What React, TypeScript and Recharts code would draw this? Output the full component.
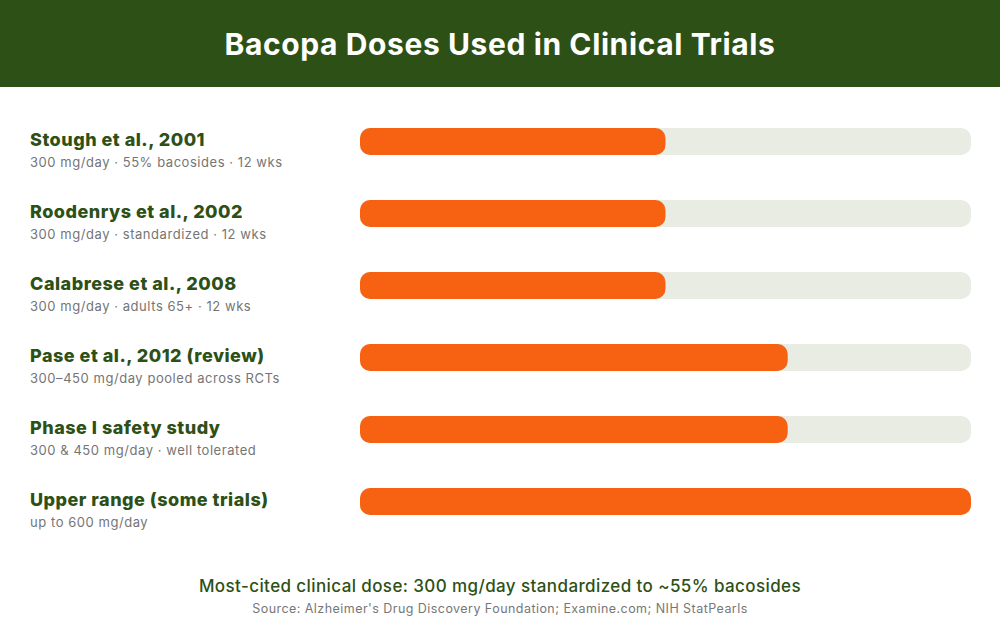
import React from 'react';
import { BarChart, Bar, XAxis, YAxis } from 'recharts';

const studies = [
  'Stough et al., 2001',
  'Roodenrys et al., 2002',
  'Calabrese et al., 2008',
  'Pase et al., 2012 (review)',
  'Phase I safety study',
  'Upper range (some trials)',
];

const details = [
  '300 mg/day · 55% bacosides · 12 wks',
  '300 mg/day · standardized · 12 wks',
  '300 mg/day · adults 65+ · 12 wks',
  '300–450 mg/day pooled across RCTs',
  '300 & 450 mg/day · well tolerated',
  'up to 600 mg/day',
];

const doses = [300, 300, 300, 420, 420, 600];

const maxDose = 600;

const GREEN = '#2d5016';
const ORANGE = '#f66212';
const TRACK = '#e8ece2';
const FONT = 'Inter, "Noto Sans", sans-serif';

const chartData = studies.map((name, i) => ({
  name,
  detail: details[i],
  dose: doses[i],
}));

const StudyTick = (props: any) => {
  const { y, payload, index } = props;
  const detail = details[index] ?? '';
  return (
    <g>
      <text
        x={30}
        y={y + 5}
        fill={GREEN}
        fontSize={18}
        fontWeight={800}
        fontFamily={FONT}
        letterSpacing={0.5}
      >
        {payload.value}
      </text>
      <text x={30} y={y + 26} fill="#757575" fontSize={13} fontFamily={FONT} letterSpacing={0.55}>
        {detail}
      </text>
    </g>
  );
};

const App: React.FC = () => {
  return (
    <div
      style={{
        position: 'absolute',
        left: 0,
        top: 0,
        width: 1000,
        height: 620,
        background: '#ffffff',
        fontFamily: FONT,
        overflow: 'hidden',
      }}
    >
      <div
        style={{
          height: 87,
          background: GREEN,
          color: '#ffffff',
          display: 'flex',
          alignItems: 'center',
          justifyContent: 'center',
          fontSize: 30,
          fontWeight: 700,
          letterSpacing: 0.6,
        }}
      >
        Bacopa Doses Used in Clinical Trials
      </div>
      <div style={{ position: 'absolute', left: 0, top: 0 }}>
        <BarChart
          width={1000}
          height={620}
          data={chartData}
          layout="vertical"
          margin={{ top: 105, right: 29, left: 0, bottom: 83 }}
        >
          <XAxis type="number" domain={[0, maxDose]} hide />
          <YAxis
            type="category"
            dataKey="name"
            width={360}
            axisLine={false}
            tickLine={false}
            tick={<StudyTick />}
          />
          <Bar
            dataKey="dose"
            fill={ORANGE}
            barSize={27}
            radius={10}
            background={{ fill: TRACK, radius: 10 } as any}
            isAnimationActive={false}
          />
        </BarChart>
      </div>
      <div
        style={{
          position: 'absolute',
          left: 0,
          width: 1000,
          top: 576,
          textAlign: 'center',
          color: GREEN,
          fontSize: 17,
          fontWeight: 500,
          letterSpacing: 0.4,
        }}
      >
        Most-cited clinical dose: 300 mg/day standardized to ~55% bacosides
      </div>
      <div
        style={{
          position: 'absolute',
          left: 0,
          width: 1000,
          top: 601,
          textAlign: 'center',
          color: '#777777',
          fontSize: 12.5,
          letterSpacing: 0.45,
        }}
      >
        Source: Alzheimer's Drug Discovery Foundation; Examine.com; NIH StatPearls
      </div>
    </div>
  );
};

export default App;
